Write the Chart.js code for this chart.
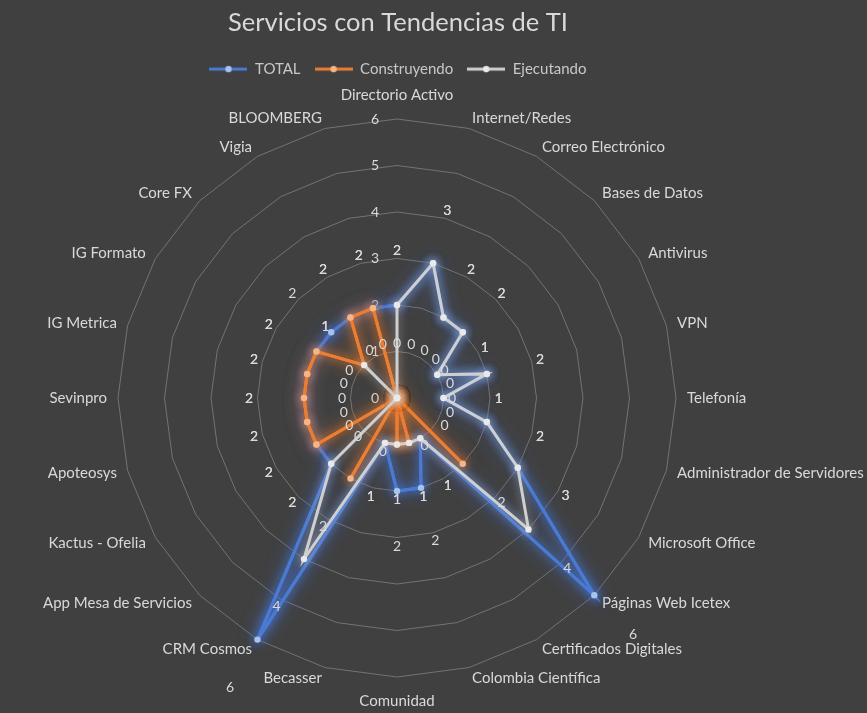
<!DOCTYPE html>
<html>
<head>
<meta charset="utf-8">
<script src="https://cdn.jsdelivr.net/npm/chart.js@4/dist/chart.umd.min.js"></script>
<style>
  html, body { margin: 0; padding: 0; background: #404040; }
  #wrap { width: 867px; height: 713px; }
  canvas { display: block; }
</style>
</head>
<body>
<div id="wrap"><canvas id="chart" width="867" height="713"></canvas></div>
<script>
// ---------- DATA ----------
const categories = [
  "Directorio Activo", "Internet/Redes", "Correo Electrónico", "Bases de Datos",
  "Antivirus", "VPN", "Telefonía", "Administrador de Servidores",
  "Microsoft Office", "Páginas Web Icetex", "Certificados Digitales", "Colombia Científica",
  "Comunidad", "Becasser", "CRM Cosmos", "App Mesa de Servicios",
  "Kactus - Ofelia", "Apoteosys", "Sevinpro", "IG Metrica",
  "IG Formato", "Core FX", "Vigia", "BLOOMBERG"
];
const totalValues        = [2, 3, 2, 2, 1, 2, 1, 2, 3, 6, 1, 2, 2, 1, 6, 2, 2, 2, 2, 2, 2, 2, 2, 2];
const construyendoValues = [0, 0, 0, 0, 0, 0, 0, 0, 0, 2, 0, 1, 1, 0, 2, 0, 2, 2, 2, 2, 2, 1, 2, 2];
const ejecutandoValues   = [2, 3, 2, 2, 1, 2, 1, 2, 3, 4, 1, 1, 1, 1, 4, 2, 0, 0, 0, 0, 0, 1, 0, 0];
const seriesNames = ["TOTAL", "Construyendo", "Ejecutando"];
const tickValues = [0, 1, 2, 3, 4, 5, 6];
const chartTitle = "Servicios con Tendencias de TI";

// ---------- STYLE ----------
const FONT = "Lato, 'Open Sans', sans-serif";
const TEXT = "#d9d9d9";
const BG = "#404040";
const lineColors  = ["#4a7ad2", "#ed7d31", "#cfcfcf"];
const pointColors = ["#a9c3ef", "#f6b585", "#e9e9e9"];
const glowColors  = ["rgba(70,125,235,1)", "rgba(237,125,49,1)", "rgba(210,210,210,0.6)"];

// plot geometry (centre & radius of the radar)
const CX = 397, CY = 398, RADIUS = 279;
const SIDE_GAP = 11, TB_GAP = 15, DATA_LABEL_GAP = 55, TICK_DX = 22;

function legendMarker(color, dot) {
  const c = document.createElement('canvas');
  c.width = 38; c.height = 10;
  const g = c.getContext('2d');
  g.strokeStyle = color; g.lineWidth = 3;
  g.beginPath(); g.moveTo(0, 5); g.lineTo(38, 5); g.stroke();
  g.fillStyle = dot;
  g.beginPath(); g.arc(19, 5, 3.2, 0, Math.PI * 2); g.fill();
  return c;
}
const markers = lineColors.map((c, i) => legendMarker(c, pointColors[i]));

const bgPlugin = {
  id: 'bg',
  beforeDraw(chart) {
    const ctx = chart.ctx;
    ctx.save(); ctx.fillStyle = BG;
    ctx.fillRect(0, 0, chart.width, chart.height);
    ctx.restore();
  }
};

const glowPlugin = {
  id: 'glow',
  beforeDatasetDraw(chart, args) {
    const ctx = chart.ctx;
    ctx.save();
    ctx.shadowColor = glowColors[args.index];
    // extra soft halo pass of the library's own line element
    if (args.meta && args.meta.dataset && args.index !== 2) {
      ctx.save();
      ctx.shadowBlur = 18;
      args.meta.dataset.draw(ctx, chart.chartArea);
      ctx.restore();
    }
    ctx.shadowBlur = 10;
  },
  afterDatasetDraw(chart) { chart.ctx.restore(); }
};

const tickLabelPlugin = {
  id: 'tickLabels',
  beforeDatasetsDraw(chart) {
    const s = chart.scales.r, ctx = chart.ctx;
    ctx.save();
    ctx.font = "14px " + FONT; ctx.fillStyle = TEXT;
    ctx.textAlign = 'center'; ctx.textBaseline = 'middle';
    tickValues.forEach(v => {
      const d = s.getDistanceFromCenterForValue(v);
      ctx.fillText(String(v), s.xCenter - TICK_DX, s.yCenter - d);
    });
    ctx.restore();
  }
};

const dataLabelPlugin = {
  id: 'dataLabels',
  afterDatasetsDraw(chart) {
    const s = chart.scales.r, ctx = chart.ctx;
    ctx.save();
    ctx.font = "14px " + FONT; ctx.fillStyle = TEXT;
    ctx.textAlign = 'center'; ctx.textBaseline = 'middle';
    chart.data.datasets.forEach(ds => {
      ds.data.forEach((v, i) => {
        const p = s.getPointPosition(i, s.getDistanceFromCenterForValue(v) + DATA_LABEL_GAP);
        ctx.fillText(String(v), p.x, p.y);
      });
    });
    ctx.restore();
  }
};

const seriesData = [totalValues, construyendoValues, ejecutandoValues];
const datasets = seriesData.map((d, i) => ({
  label: seriesNames[i],
  data: d,
  borderColor: lineColors[i],
  backgroundColor: pointColors[i],
  pointBackgroundColor: pointColors[i],
  pointBorderColor: pointColors[i],
  pointRadius: 3.2,
  pointBorderWidth: 0,
  borderWidth: 3,
  fill: false,
  clip: false,
  order: 3 - i
}));

new Chart(document.getElementById('chart'), {
  type: 'radar',
  data: { labels: categories, datasets },
  plugins: [bgPlugin, glowPlugin, tickLabelPlugin, dataLabelPlugin],
  options: {
    responsive: false,
    animation: false,
    devicePixelRatio: 1,
    layout: { padding: { left: 0, right: 71, top: 0, bottom: 0 } },
    plugins: {
      title: {
        display: true, text: chartTitle, color: TEXT,
        font: { family: FONT, size: 25.5, weight: 'normal' },
        padding: { top: 7, bottom: 10 }
      },
      legend: {
        display: true,
        labels: {
          color: "#c8c8c8",
          font: { family: FONT, size: 15 },
          usePointStyle: true,
          pointStyleWidth: 38,
          padding: 14,
          sort: (a, b) => a.datasetIndex - b.datasetIndex,
          generateLabels(chart) {
            const items = Chart.defaults.plugins.legend.labels.generateLabels(chart);
            items.forEach(it => { it.pointStyle = markers[it.datasetIndex]; });
            return items;
          }
        }
      },
      tooltip: { enabled: false }
    },
    scales: {
      r: {
        min: 0, max: 6,
        ticks: { stepSize: 1, display: false },
        grid: { color: "#737373", lineWidth: 1, circular: false },
        angleLines: { display: false },
        pointLabels: { color: TEXT, font: { family: FONT, size: 15 }, padding: 11 },
        afterFit(scale) {
          scale.xCenter = CX; scale.yCenter = CY; scale.drawingArea = RADIUS;
          const items = scale._pointLabelItems || [];
          const n = categories.length;
          items.forEach((it, i) => {
            const w = it.right - it.left, h = it.bottom - it.top;
            const deg = Math.round(i * 360 / n);
            const side = deg % 180 !== 0;
            const p = scale.getPointPosition(i, RADIUS + (side ? SIDE_GAP : TB_GAP));
            let align, left, top;
            if (!side) {
              align = 'center'; left = p.x - w / 2; top = deg === 0 ? p.y - h : p.y;
            } else {
              align = deg < 180 ? 'left' : 'right';
              left = align === 'left' ? p.x : p.x - w;
              top = p.y - h / 2;
            }
            Object.assign(it, { x: p.x, y: top, textAlign: align, left, top, right: left + w, bottom: top + h, visible: true });
          });
        }
      }
    }
  }
});
</script>
</body>
</html>
